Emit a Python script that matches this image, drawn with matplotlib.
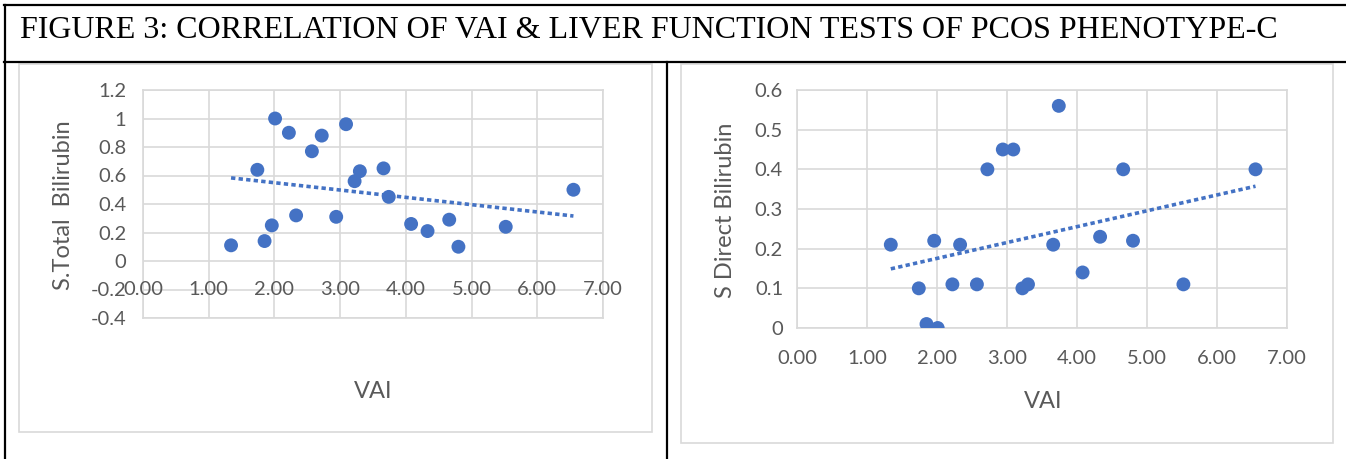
import matplotlib.pyplot as plt
import numpy as np
from matplotlib.lines import Line2D
from matplotlib.patches import Rectangle

# VAI of the 21 phenotype-C patients
vai = [1.34, 1.74, 1.85, 1.96, 2.01, 2.22, 2.33, 2.57, 2.72, 2.94, 3.09,
       3.22, 3.30, 3.66, 3.74, 4.08, 4.33, 4.66, 4.80, 5.52, 6.55]
total_bili = [0.11, 0.64, 0.14, 0.25, 1.00, 0.90, 0.32, 0.77, 0.88, 0.31, 0.96,
              0.56, 0.63, 0.65, 0.45, 0.26, 0.21, 0.29, 0.10, 0.24, 0.50]
direct_bili = [0.21, 0.10, 0.01, 0.22, 0.00, 0.11, 0.21, 0.11, 0.40, 0.45, 0.45,
               0.10, 0.11, 0.21, 0.56, 0.14, 0.23, 0.40, 0.22, 0.11, 0.40]

x_ticks = [0, 1, 2, 3, 4, 5, 6, 7]
left_yticks = [-0.4, -0.2, 0, 0.2, 0.4, 0.6, 0.8, 1.0, 1.2]
right_yticks = [0, 0.1, 0.2, 0.3, 0.4, 0.5, 0.6]

title = "FIGURE 3: CORRELATION OF VAI & LIVER FUNCTION TESTS OF PCOS PHENOTYPE-C"

W, H = 1346, 459
BLUE = '#4472C4'
GRID = '#D9D9D9'
TXT = '#595959'
SANS = ['Lato', 'DejaVu Sans']


def fx(px):
    return px / W


def fy(py):
    return 1 - py / H


fig = plt.figure(figsize=(W / 100, H / 100), dpi=100)


def scatter_panel(ax, x, y, ylim, yticks, fs):
    ax.set_xlim(0, 7)
    ax.set_ylim(*ylim)
    ax.set_xticks(x_ticks)
    ax.set_yticks(yticks)
    ax.grid(color=GRID, linewidth=1.2)
    ax.set_axisbelow(True)
    for s in ax.spines.values():
        s.set_color(GRID)
        s.set_linewidth(1.2)
    ax.tick_params(length=0, labelcolor=TXT, labelsize=fs)
    for lab in ax.get_xticklabels() + ax.get_yticklabels():
        lab.set_family(SANS)
    # linear trend line
    k, b = np.polyfit(x, y, 1)
    xs = np.array([min(x), max(x)])
    ax.plot(xs, k * xs + b, color=BLUE, linewidth=2.6,
            linestyle=(0, (1.2, 0.9)), dash_capstyle='butt', zorder=2)
    ax.scatter(x, y, s=100, color=BLUE, edgecolors='none', zorder=3)


# left chart
ax1 = fig.add_axes([fx(143), fy(318), fx(603) - fx(143), fy(90) - fy(318)])
scatter_panel(ax1, vai, total_bili, (-0.4, 1.2), left_yticks, 14.5)
ax1.set_yticklabels([f"{v:g}" for v in left_yticks])
ax1.tick_params(axis='y', pad=12)
ax1.set_xticklabels([])
for t in x_ticks:
    ax1.text(t, -0.2, f"{t:.2f}", ha='center', va='center', fontsize=14.5,
             color=TXT, family=SANS)

# right chart
ax2 = fig.add_axes([fx(797), fy(328), fx(1287) - fx(797), fy(90) - fy(328)])
scatter_panel(ax2, vai, direct_bili, (0, 0.6), right_yticks, 14.5)
ax2.set_yticklabels([f"{v:g}" for v in right_yticks])
ax2.set_xticklabels([f"{t:.2f}" for t in x_ticks])
ax2.tick_params(axis='y', pad=10)
ax2.tick_params(axis='x', pad=16)

# axis titles
fig.text(fx(64), fy(205), "S.Total  Bilirubin", rotation=90, ha='center',
         va='center', fontsize=17, color=TXT, family=SANS)
fig.text(fx(373), fy(392), "VAI", ha='center', va='center', fontsize=17,
         color=TXT, family=SANS)
fig.text(fx(725), fy(210), "S Direct Bilirubin", rotation=90, ha='center',
         va='center', fontsize=17, color=TXT, family=SANS)
fig.text(fx(1043), fy(402), "VAI", ha='center', va='center', fontsize=17,
         color=TXT, family=SANS)

# chart area borders
fig.add_artist(Rectangle((fx(19), fy(432)), fx(652) - fx(19), fy(64) - fy(432),
                         fill=False, edgecolor=GRID, linewidth=1.2))
fig.add_artist(Rectangle((fx(681), fy(443)), fx(1333) - fx(681), fy(64) - fy(443),
                         fill=False, edgecolor=GRID, linewidth=1.2))

# table frame
for xs, ys in [((4, W), (5, 5)), ((5, 5), (5, H)), ((4, W), (62, 62)),
               ((667, 667), (62, H))]:
    fig.add_artist(Line2D([fx(xs[0]), fx(xs[1])], [fy(ys[0]), fy(ys[1])],
                          color='black', linewidth=1.6))

fig.text(fx(20), fy(31), title, ha='left', va='center', fontsize=23,
         family=['Liberation Serif', 'DejaVu Serif'], color='black')

fig.savefig('out.png', dpi=100)
